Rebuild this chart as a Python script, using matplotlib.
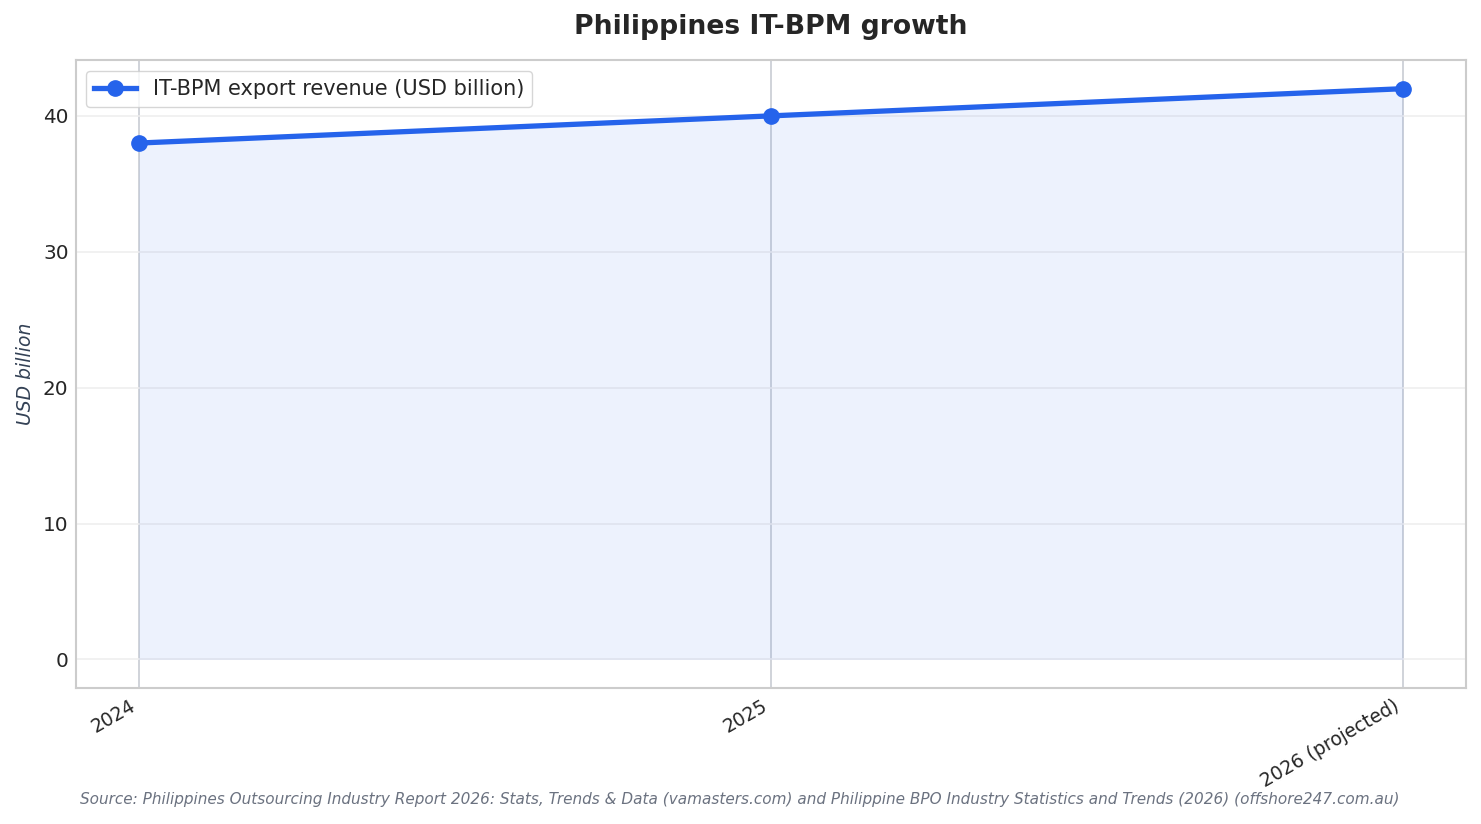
import matplotlib
matplotlib.use("Agg")
import matplotlib.pyplot as plt

years = ["2024", "2025", "2026 (projected)"]
revenue = [38, 40, 42]

line_color = "#2563eb"

fig, ax = plt.subplots(figsize=(14.81, 8.24), dpi=100)
x = list(range(len(years)))

ax.fill_between(x, revenue, 0, color=line_color, alpha=0.08, linewidth=0)
ax.plot(x, revenue, color=line_color, linewidth=3.8, marker="o", markersize=11,
        label="IT-BPM export revenue (USD billion)")

ax.set_xticks(x)
ax.set_xticklabels(years, rotation=30, ha="right", fontsize=13.5, color="#262626")
ax.tick_params(axis="y", labelsize=14.4, labelcolor="#262626", length=0, pad=5)
ax.tick_params(axis="x", length=0, pad=6)

ax.grid(axis="x", color="#c3c7d0", linewidth=1.1)
ax.grid(axis="y", color="#eeeeee", linewidth=1.1)
ax.set_axisbelow(True)
for s in ax.spines.values():
    s.set_color("#cccccc")
    s.set_linewidth(1.5)

ax.set_ylabel("USD billion", fontsize=13.5, style="italic", color="#334155", labelpad=6)
ax.set_title("Philippines IT-BPM growth", fontsize=19.2, fontweight="bold", color="#262626", pad=19)
leg = ax.legend(loc="upper left", fontsize=15, frameon=True, edgecolor="#cccccc")
for t in leg.get_texts():
    t.set_color("#262626")

fig.text(0.054, 0.024,
         "Source: Philippines Outsourcing Industry Report 2026: Stats, Trends & Data (vamasters.com) "
         "and Philippine BPO Industry Statistics and Trends (2026) (offshore247.com.au)",
         fontsize=11, style="italic", color="#6b7280")

fig.subplots_adjust(left=0.051, right=0.99, top=0.927, bottom=0.165)
fig.savefig("out.png", dpi=100)
